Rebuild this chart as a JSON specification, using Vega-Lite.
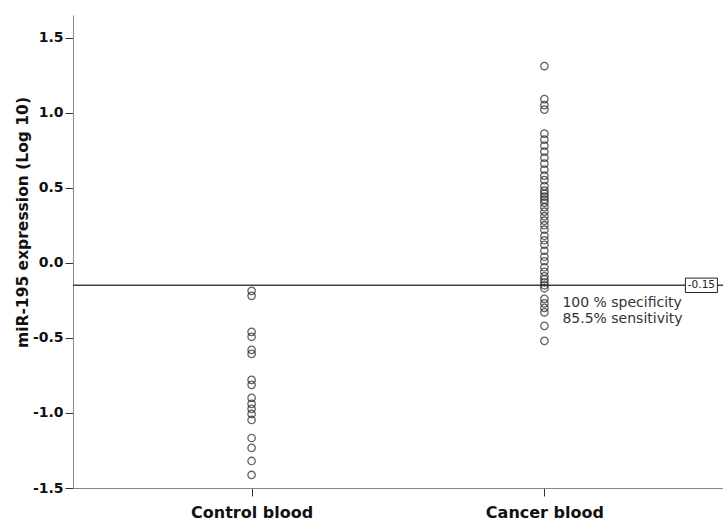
{
  "$schema": "https://vega.github.io/schema/vega-lite/v6.json",
  "width": 650,
  "height": 473,
  "autosize": {"type": "none"},
  "padding": {"left": 73, "top": 15, "right": 0, "bottom": 35},
  "background": "white",
  "config": {
    "view": {"stroke": null},
    "font": "DejaVu Sans",
    "axis": {"grid": false, "domainColor": "#888888", "tickColor": "#333333", "labelColor": "#111111", "titleColor": "#111111", "labelFont": "DejaVu Sans", "titleFont": "DejaVu Sans"}
  },
  "datasets": {
    "pts": [
      {"group": "Control blood", "value": -0.187},
      {"group": "Control blood", "value": -0.22},
      {"group": "Control blood", "value": -0.46},
      {"group": "Control blood", "value": -0.493},
      {"group": "Control blood", "value": -0.58},
      {"group": "Control blood", "value": -0.607},
      {"group": "Control blood", "value": -0.78},
      {"group": "Control blood", "value": -0.813},
      {"group": "Control blood", "value": -0.9},
      {"group": "Control blood", "value": -0.94},
      {"group": "Control blood", "value": -0.973},
      {"group": "Control blood", "value": -1.007},
      {"group": "Control blood", "value": -1.047},
      {"group": "Control blood", "value": -1.167},
      {"group": "Control blood", "value": -1.233},
      {"group": "Control blood", "value": -1.32},
      {"group": "Control blood", "value": -1.413},
      {"group": "Cancer blood", "value": 1.31},
      {"group": "Cancer blood", "value": 1.09},
      {"group": "Cancer blood", "value": 1.05},
      {"group": "Cancer blood", "value": 1.02},
      {"group": "Cancer blood", "value": 0.86},
      {"group": "Cancer blood", "value": 0.82},
      {"group": "Cancer blood", "value": 0.78},
      {"group": "Cancer blood", "value": 0.74},
      {"group": "Cancer blood", "value": 0.7},
      {"group": "Cancer blood", "value": 0.66},
      {"group": "Cancer blood", "value": 0.62},
      {"group": "Cancer blood", "value": 0.58},
      {"group": "Cancer blood", "value": 0.55},
      {"group": "Cancer blood", "value": 0.51},
      {"group": "Cancer blood", "value": 0.48},
      {"group": "Cancer blood", "value": 0.46},
      {"group": "Cancer blood", "value": 0.44},
      {"group": "Cancer blood", "value": 0.42},
      {"group": "Cancer blood", "value": 0.4},
      {"group": "Cancer blood", "value": 0.37},
      {"group": "Cancer blood", "value": 0.34},
      {"group": "Cancer blood", "value": 0.31},
      {"group": "Cancer blood", "value": 0.28},
      {"group": "Cancer blood", "value": 0.25},
      {"group": "Cancer blood", "value": 0.22},
      {"group": "Cancer blood", "value": 0.18},
      {"group": "Cancer blood", "value": 0.15},
      {"group": "Cancer blood", "value": 0.12},
      {"group": "Cancer blood", "value": 0.08},
      {"group": "Cancer blood", "value": 0.04},
      {"group": "Cancer blood", "value": 0.01},
      {"group": "Cancer blood", "value": -0.03},
      {"group": "Cancer blood", "value": -0.06},
      {"group": "Cancer blood", "value": -0.09},
      {"group": "Cancer blood", "value": -0.11},
      {"group": "Cancer blood", "value": -0.13},
      {"group": "Cancer blood", "value": -0.15},
      {"group": "Cancer blood", "value": -0.17},
      {"group": "Cancer blood", "value": -0.24},
      {"group": "Cancer blood", "value": -0.27},
      {"group": "Cancer blood", "value": -0.3},
      {"group": "Cancer blood", "value": -0.33},
      {"group": "Cancer blood", "value": -0.42},
      {"group": "Cancer blood", "value": -0.52}
    ],
    "cut": [{"group": "Cancer blood", "value": -0.15, "label": "-0.15"}],
    "notes": [
      {"group": "Cancer blood", "value": -0.265, "label": "100 % specificity"},
      {"group": "Cancer blood", "value": -0.375, "label": "85.5% sensitivity"}
    ]
  },
  "encoding": {
    "x": {
      "field": "group", "type": "nominal",
      "sort": ["Control blood", "Cancer blood"],
      "scale": {"type": "point", "padding": 0.61, "domain": ["Control blood", "Cancer blood"]},
      "axis": {"title": null, "labelAngle": 0, "labelFontSize": 16, "labelFontWeight": "bold", "tickSize": 8, "labelPadding": 8, "domainColor": "#888888"}
    },
    "y": {
      "field": "value", "type": "quantitative",
      "scale": {"domain": [-1.5, 1.65], "nice": false, "zero": false},
      "axis": {"title": "miR-195 expression (Log 10)", "values": [-1.5, -1, -0.5, 0, 0.5, 1, 1.5], "labelExpr": "replace(format(datum.value, '.1f'), '\u2212', '-')", "labelFontSize": 14, "labelFontWeight": "bold", "tickSize": 8, "labelPadding": 2, "titleFontSize": 15.5, "titleFontWeight": "bold", "titlePadding": 2, "titleY": 207}
    }
  },
  "layer": [
    {
      "data": {"name": "cut"},
      "mark": {"type": "rule", "color": "#444444", "strokeWidth": 1.5},
      "encoding": {"x": null}
    },
    {
      "data": {"name": "pts"},
      "mark": {"type": "point", "shape": "circle", "filled": false, "color": "#222222", "strokeWidth": 1.3, "size": 55}
    },
    {
      "data": {"name": "cut"},
      "mark": {"type": "point", "shape": "M-1,-0.45H1V0.45H-1Z", "filled": true, "fill": "white", "stroke": "#222222", "strokeWidth": 1, "size": 1024, "opacity": 1},
      "encoding": {"xOffset": {"value": 157}}
    },
    {
      "data": {"name": "cut"},
      "mark": {"type": "text", "fontSize": 10.5, "color": "#222222", "align": "center", "baseline": "middle", "dx": 157},
      "encoding": {"text": {"field": "label"}}
    },
    {
      "data": {"name": "notes"},
      "mark": {"type": "text", "fontSize": 14, "color": "#333333", "align": "left", "baseline": "middle", "dx": 18},
      "encoding": {"text": {"field": "label"}}
    }
  ]
}
